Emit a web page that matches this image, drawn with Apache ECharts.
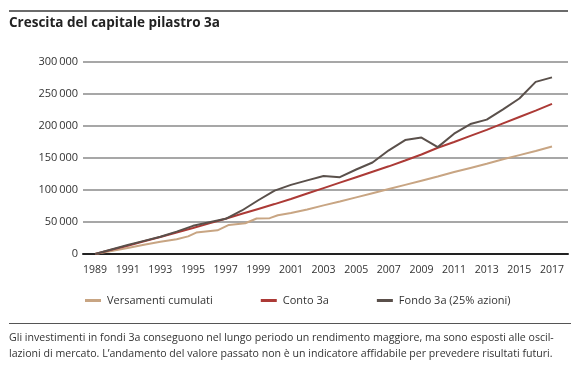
<!DOCTYPE html>
<html>
<head>
<meta charset="utf-8">
<script src="https://cdn.jsdelivr.net/npm/echarts@6/dist/echarts.min.js"></script>
<style>
html,body{margin:0;padding:0;background:#fff;}
#c{width:580px;height:371px;}
</style>
</head>
<body>
<div id="c"></div>
<script>
const title = 'Crescita del capitale pilastro 3a';
const footnote = ['Gli investimenti in fondi 3a conseguono nel lungo periodo un rendimento maggiore, ma sono esposti alle oscil-',
  'lazioni di mercato. L\u2019andamento del valore passato non è un indicatore affidabile per prevedere risultati futuri.'];
const seriesNames = ['Versamenti cumulati', 'Conto 3a', 'Fondo 3a (25% azioni)'];
const xTickLabels = [1989,1991,1993,1995,1997,1999,2001,2003,2005,2007,2009,2011,2013,2015,2017];
const yTickValues = [0,50000,100000,150000,200000,250000,300000];
const yTickLabels = ['0','50\u2009000','100\u2009000','150\u2009000','200\u2009000','250\u2009000','300\u2009000'];

const years = [1989,1990,1991,1992,1993,1994,1995,1996,1997,1998,1999,2000,2001,2002,2003,2004,2005,2006,2007,2008,2009,2010,2011,2012,2013,2014,2015,2016,2017];
const conto = [0,6500,13000,19800,26700,33500,40500,47800,55200,62800,70400,78000,86000,94500,103000,111500,120000,128500,137000,146000,155500,166000,175000,184500,194000,204000,214000,224000,234500];
const fondo = [0,7000,14000,20500,27000,35000,44000,49500,55000,68000,84000,99000,108000,115000,122000,120000,132000,143000,162000,178000,182000,167000,188000,203000,210000,226000,243000,269000,276000];

const versYears = [1989,1990,1991,1992,1993,1994,1994.7,1995.2,1996.5,1997.2,1998.2,1998.9,1999.7,2000.2,2001,2002,2003,2004,2005,2006,2007,2008,2009,2010,2011,2012,2013,2014,2015,2016,2017];
const versamenti = [0,4500,9500,14500,19000,23000,27500,33500,37000,45500,48000,55500,56000,60500,64000,69500,76000,82000,88500,95000,101500,108000,114500,121000,128000,134500,141000,148000,154500,161000,168000];

const colors = ['#c8a583', '#ac3a36', '#5a504b'];
const font = 'Open Sans';

const pair = (xs, vs) => xs.map((x, i) => [x, vs[i]]);

const chart = echarts.init(document.getElementById('c'), null, {renderer: 'canvas'});
chart.setOption({
  animation: false,
  textStyle: {fontFamily: font},
  grid: {left: 83, right: 12, top: 62, bottom: 117, containLabel: false},
  xAxis: {
    type: 'value', min: 1988.26, max: 2017.98,
    axisLine: {show: true, onZero: true, lineStyle: {color: '#222', width: 2}},
    axisTick: {show: false},
    splitLine: {show: false},
    axisLabel: {customValues: xTickLabels, formatter: v => String(v), color: '#333', fontSize: 10.5, fontFamily: font, margin: 11}
  },
  yAxis: {
    type: 'value', min: 0, max: 300000, interval: 50000,
    axisLine: {show: false}, axisTick: {show: false},
    splitLine: {lineStyle: {color: '#8a8a8a', width: 1.5}},
    axisLabel: {formatter: v => yTickLabels[yTickValues.indexOf(v)], color: '#333', fontSize: 11, fontFamily: font, margin: 5}
  },
  legend: {
    show: true, bottom: 60, left: 80, icon: 'rect', itemWidth: 16, itemHeight: 3, itemGap: 48,
    textStyle: {color: '#333', fontSize: 11, fontFamily: font, padding: [0,0,0,1]},
    data: seriesNames
  },
  series: [
    {name: seriesNames[0], type: 'line', data: pair(versYears, versamenti), showSymbol: false, lineStyle: {width: 2, color: colors[0]}, itemStyle: {color: colors[0]}, z: 3},
    {name: seriesNames[1], type: 'line', data: pair(years, conto), showSymbol: false, lineStyle: {width: 2, color: colors[1]}, itemStyle: {color: colors[1]}, z: 4},
    {name: seriesNames[2], type: 'line', data: pair(years, fondo), showSymbol: false, lineStyle: {width: 2, color: colors[2]}, itemStyle: {color: colors[2]}, z: 5}
  ],
  graphic: [
    {type: 'line', shape: {x1: 9, y1: 11, x2: 568, y2: 11}, style: {stroke: '#6b6b6b', lineWidth: 2}},
    {type: 'text', left: 9, top: 16, style: {text: title, font: 'bold 13.5px "Open Sans"', fill: '#222'}},
    {type: 'line', shape: {x1: 9, y1: 323.5, x2: 571, y2: 323.5}, style: {stroke: '#555', lineWidth: 1}},
    {type: 'text', left: 9, top: 330, style: {text: footnote.join('\n'), font: '10.6px "Open Sans"', fill: '#333', lineHeight: 16}}
  ]
});
</script>
</body>
</html>
